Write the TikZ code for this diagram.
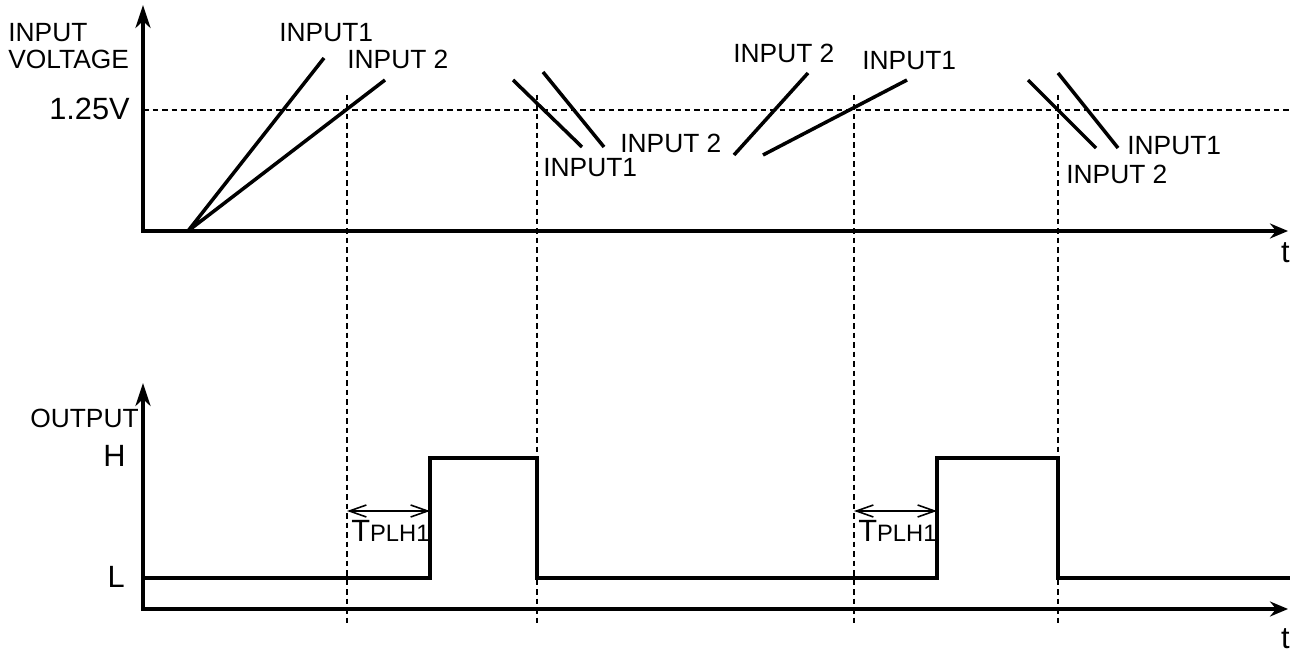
\documentclass[tikz,border=0pt]{standalone}
\usepackage{fontspec}
\setmainfont{Liberation Sans}
\usetikzlibrary{arrows.meta}
\tikzset{
  axis/.style={line width=2pt, line join=miter, {Stealth[length=0.46cm,width=0.3cm,inset=0.14cm]}-{Stealth[length=0.36cm,width=0.3cm,inset=0.12cm]}},
  sig/.style={line width=2pt},
  guide/.style={line width=0.6pt, dash pattern=on 0.11cm off 0.08cm},
  lbl/.style={inner sep=0pt, font=\fontsize{15}{18}\selectfont},
  big/.style={inner sep=0pt, font=\fontsize{17.5}{20}\selectfont}
}
\begin{document}
\begin{tikzpicture}[x=0.2mm, y=-0.2mm]
      \useasboundingbox (0,0) rectangle (1290,652);
      % guides
      \draw[guide] (143,110) -- (1290,110);
      \foreach \x in {347,537,854,1058}
      \draw[guide] (\x,95) -- (\x,623);
      % axes
      \draw[axis] (143,5) -- (143,231) -- (1288,231);
      \draw[axis] (143,383) -- (143,609) -- (1288,609);
      % input ramps
      \draw[sig] (188,231) -- (324,58) (188,231) -- (385,80);
      \draw[sig] (513,80) -- (582,147) (543,72) -- (604,147);
      \draw[sig] (734,155) -- (808,73) (763,155) -- (907,80);
      \draw[sig] (1028,80) -- (1096,148) (1058,73) -- (1118,148);
      % output
      \draw[sig] (143,578) -- (430,578) -- (430,458) -- (537,458) -- (537,578)
        -- (937,578) -- (937,458) -- (1058,458) -- (1058,578) -- (1290,578);
      \foreach \a/\b in {347/430,854/937}
      {
      \coordinate (d\a) at (\a,511);
      \coordinate (r\a) at (\b,511);
      \draw[line width=0.9pt, {Straight Barb[length=0.34cm,width=0.24cm]}-{Straight Barb[length=0.34cm,width=0.24cm]}] (d\a) -- (r\a);
      \node[big, anchor=base west] (tplh\a) at (\a+4,541) {T\fontsize{13.5}{15}\selectfont PLH1};
      }
      % labels
      \node[lbl, anchor=base west] (yin) at (8,42) {INPUT};
      \node[lbl, anchor=base west] (yvolt) at (8,69) {VOLTAGE};
      \node[big, anchor=base east] (vth) at (130,120) {1.25V};
      \node[lbl, anchor=base west] (inA) at (279,42) {INPUT1};
      \node[lbl, anchor=base west] (inB) at (347,69) {INPUT 2};
      \node[lbl, anchor=base west] (inC) at (543,177) {INPUT1};
      \node[lbl, anchor=base west] (inD) at (620,153) {INPUT 2};
      \node[lbl, anchor=base west] (inE) at (733,63) {INPUT 2};
      \node[lbl, anchor=base west] (inF) at (862,70) {INPUT1};
      \node[lbl, anchor=base west] (inG) at (1127,155) {INPUT1};
      \node[lbl, anchor=base west] (inH) at (1066,184) {INPUT 2};
      \node[big, anchor=base east] (t1) at (1290,263) {t};
      \node[big, anchor=base east] (t2) at (1290,648) {t};
      \node[lbl, anchor=base east] (yout) at (139,427) {OUTPUT};
      \node[big, anchor=base east] (hi) at (126,466) {H};
      \node[big, anchor=base east] (lo) at (125,587) {L};
    \end{tikzpicture}
\end{document}
